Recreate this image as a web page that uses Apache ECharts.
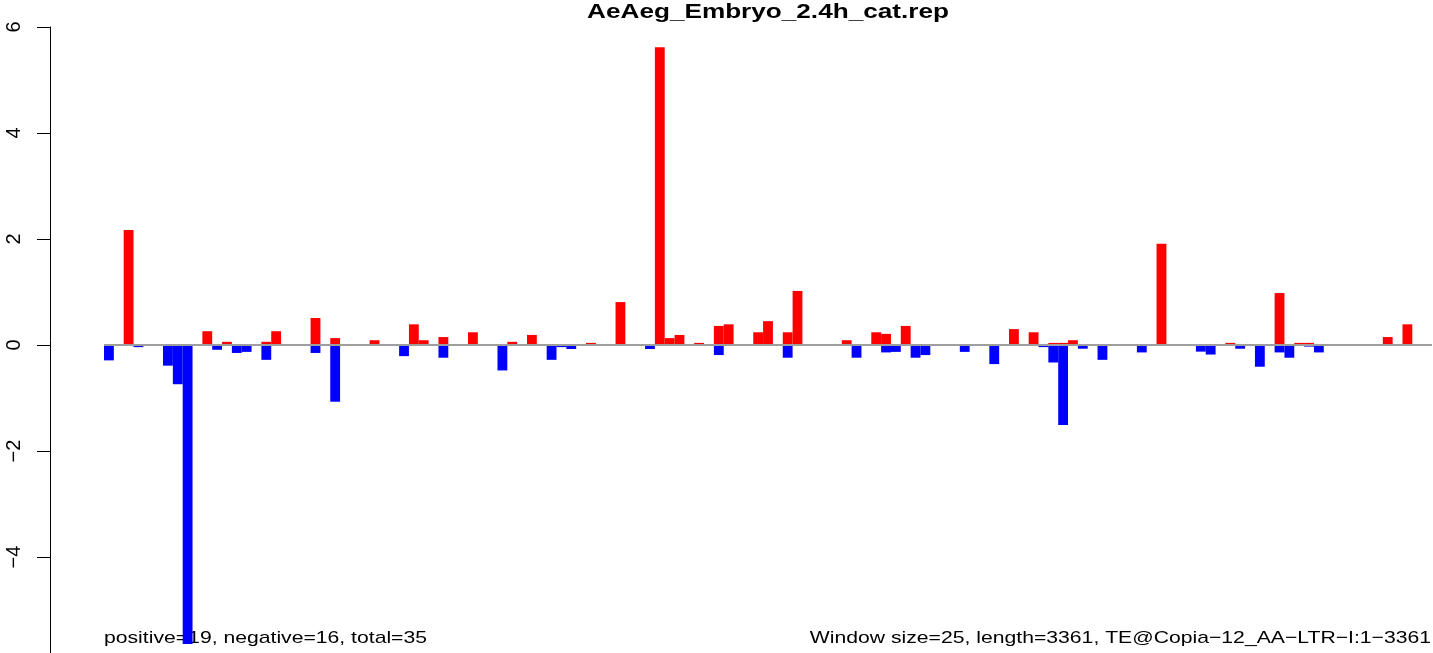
<!DOCTYPE html>
<html>
<head>
<meta charset="utf-8">
<script src="https://cdn.jsdelivr.net/npm/echarts@6/dist/echarts.min.js"></script>
<style>
html,body{margin:0;padding:0;background:#fff;}
#chart{width:1433px;height:653px;}
</style>
</head>
<body>
<div id="chart"></div>
<script>
// ---- data (window index 0..134) ----
var bins = [];
for (var i = 0; i < 135; i++) bins.push(String(i));

var positiveValues = [
  null,null,2.17,null,null,null,null,null,null,null,
  0.26,null,0.06,null,null,null,0.06,0.26,null,null,
  null,0.51,null,0.13,null,null,null,0.09,null,null,
  null,0.39,0.09,null,0.15,null,null,0.24,null,null,
  null,0.06,null,0.19,null,null,null,null,null,0.04,
  null,null,0.81,null,null,null,5.62,0.13,0.19,null,
  0.04,null,0.36,0.39,null,null,0.24,0.45,null,0.24,
  1.02,null,null,null,null,0.09,null,null,0.24,0.21,
  null,0.36,null,null,null,null,null,null,null,null,
  null,null,0.30,null,0.24,null,0.04,0.04,0.09,null,
  null,null,null,null,null,null,null,1.91,null,null,
  null,null,null,null,0.04,null,null,null,null,0.98,
  null,0.04,0.04,null,null,null,null,null,null,null,
  0.15,null,0.39,null,null
];

var negativeValues = [
  -0.29,null,null,-0.04,null,null,-0.39,-0.74,-5.64,null,
  null,-0.09,null,-0.15,-0.13,null,-0.28,null,null,null,
  null,-0.15,null,-1.07,null,null,null,null,null,null,
  -0.21,null,null,null,-0.24,null,null,null,null,null,
  -0.48,null,null,null,null,-0.28,-0.04,-0.075,null,null,
  null,null,null,null,null,-0.075,null,null,null,null,
  null,null,-0.19,null,null,null,null,null,null,-0.24,
  null,null,null,null,null,null,-0.24,null,null,-0.14,
  -0.13,null,-0.24,-0.19,null,null,null,-0.13,null,null,
  -0.36,null,null,null,null,-0.04,-0.33,-1.51,null,-0.07,
  null,-0.28,null,null,null,-0.14,null,null,null,null,
  null,-0.125,-0.18,null,null,-0.07,null,-0.41,null,-0.14,
  -0.24,null,-0.03,-0.14,null,null,null,null,null,null,
  null,null,null,null,null
];

var yTicks = { min: -6, max: 6, interval: 2 };
var titleText = 'AeAeg_Embryo_2.4h_cat.rep';
var leftNote = 'positive=19, negative=16, total=35';
var rightNote = 'Window size=25, length=3361, TE@Copia\u221212_AA\u2212LTR\u2212I:1\u22123361';

var FONT = '"Liberation Sans", Arial, Helvetica, sans-serif';
var chart = echarts.init(document.getElementById('chart'), null, { renderer: 'canvas' });

chart.setOption({
  animation: false,
  backgroundColor: '#ffffff',
  grid: { left: 104, top: 27, width: 1328, height: 636, containLabel: false, outerBoundsMode: 'none' },
  xAxis: {
    type: 'category',
    data: bins,
    boundaryGap: true,
    show: false
  },
  yAxis: {
    type: 'value',
    min: yTicks.min,
    max: yTicks.max,
    interval: yTicks.interval,
    position: 'left',
    offset: 54,
    axisLine: { show: true, onZero: false, lineStyle: { color: '#000', width: 1 } },
    axisTick: { show: true, inside: false, length: 13, lineStyle: { color: '#000', width: 1 } },
    splitLine: { show: false },
    axisLabel: {
      show: true,
      rotate: 90,
      margin: 26,
      fontSize: 20,
      fontFamily: FONT,
      color: '#000',
      showMinLabel: false,
      formatter: function (v) { return v < 0 ? '\u2212' + Math.abs(v) : String(v); }
    }
  },
  series: [
    {
      name: 'positive',
      type: 'bar',
      data: positiveValues,
      barCategoryGap: '0%',
      barGap: '-100%',
      itemStyle: { color: '#ff0000' },
      silent: true,
      z: 2
    },
    {
      name: 'negative',
      type: 'bar',
      data: negativeValues,
      barCategoryGap: '0%',
      barGap: '-100%',
      itemStyle: { color: '#0000ff' },
      silent: true,
      z: 3,
      markLine: {
        silent: true,
        symbol: ['none', 'none'],
        label: { show: false },
        lineStyle: { color: '#9e9e9e', width: 2, type: 'solid' },
        data: [{ yAxis: 0 }],
        z: 5
      }
    }
  ],
  graphic: [
    {
      type: 'text', x: 768, y: 12, scaleX: 1.245, z: 10,
      style: {
        text: titleText, font: 'bold 21px ' + FONT, fill: '#000',
        align: 'center', verticalAlign: 'middle',
        textAlign: 'center', textVerticalAlign: 'middle'
      }
    },
    {
      type: 'text', x: 104, y: 638, scaleX: 1.245, z: 0,
      style: {
        text: leftNote, font: '17px ' + FONT, fill: '#000',
        align: 'left', verticalAlign: 'middle',
        textAlign: 'left', textVerticalAlign: 'middle'
      }
    },
    {
      type: 'text', x: 1431, y: 638, scaleX: 1.245, z: 0,
      style: {
        text: rightNote, font: '17px ' + FONT, fill: '#000',
        align: 'right', verticalAlign: 'middle',
        textAlign: 'right', textVerticalAlign: 'middle'
      }
    }
  ]
});
</script>
</body>
</html>
